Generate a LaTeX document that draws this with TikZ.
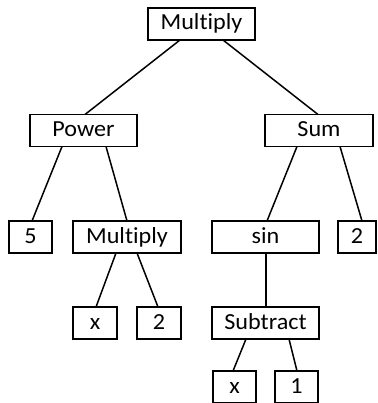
\documentclass[tikz,border=0pt]{standalone}
\usepackage{fontspec}
\setmainfont{Carlito}[Ligatures=NoCommon, FakeStretch=1.05]
\begin{document}
\begin{tikzpicture}[x=1pt,y=-1pt,
  term/.style={draw=black, line width=1.5pt, minimum height=32pt, inner sep=0pt,
    outer sep=0pt, text height=16pt, text depth=4pt,
    font=\fontsize{23}{26}\selectfont, text=black},
  link/.style={draw=black, line width=1.5pt}]
\useasboundingbox (0,0) rectangle (377,403);

% operator and leaf boxes
\node[term, minimum width=107pt] (m1)   at (201.5,24)  {Multiply};
\node[term, minimum width=107pt] (pow)  at (83.5,130.5) {Power};
\node[term, minimum width=108pt] (sum)  at (319,130.5) {Sum};
\node[term, minimum width=43pt]  (five) at (30.5,237)  {5};
\node[term, minimum width=108pt] (m2)   at (127,237)   {Multiply};
\node[term, minimum width=107pt] (sin)  at (265.5,237) {sin};
\node[term, minimum width=38pt]  (twoa) at (357,237)   {2};
\node[term, minimum width=44pt]  (xa)   at (95,323)    {x};
\node[term, minimum width=44pt]  (twob) at (159,323)   {2};
\node[term, minimum width=107pt] (sub)  at (265.5,323) {Subtract};
\node[term, minimum width=43pt]  (xb)   at (234.5,387) {x};
\node[term, minimum width=43pt]  (one)  at (296.5,387) {1};

% tree edges
\draw[link] ([xshift=-21.5]m1.south) -- ([xshift=1.5]pow.north);
\draw[link] ([xshift=21.5]m1.south) -- ([xshift=-1]sum.north);
\draw[link] ([xshift=-21.5]pow.south) -- ([xshift=1.5]five.north);
\draw[link] ([xshift=22.5]pow.south) -- (m2.north);
\draw[link] ([xshift=-22]sum.south) -- ([xshift=1.5]sin.north);
\draw[link] ([xshift=21]sum.south) -- ([xshift=5]twoa.north);
\draw[link] ([xshift=-11]m2.south) -- ([xshift=1]xa.north);
\draw[link] ([xshift=10]m2.south) -- ([xshift=-1]twob.north);
\draw[link] ([xshift=0.5]sin.south) -- ([xshift=0.5]sub.north);
\draw[link] ([xshift=-19.5]sub.south) -- ([xshift=-1.5]xb.north);
\draw[link] ([xshift=23.5]sub.south) -- ([xshift=0.5]one.north);
\end{tikzpicture}
\end{document}
